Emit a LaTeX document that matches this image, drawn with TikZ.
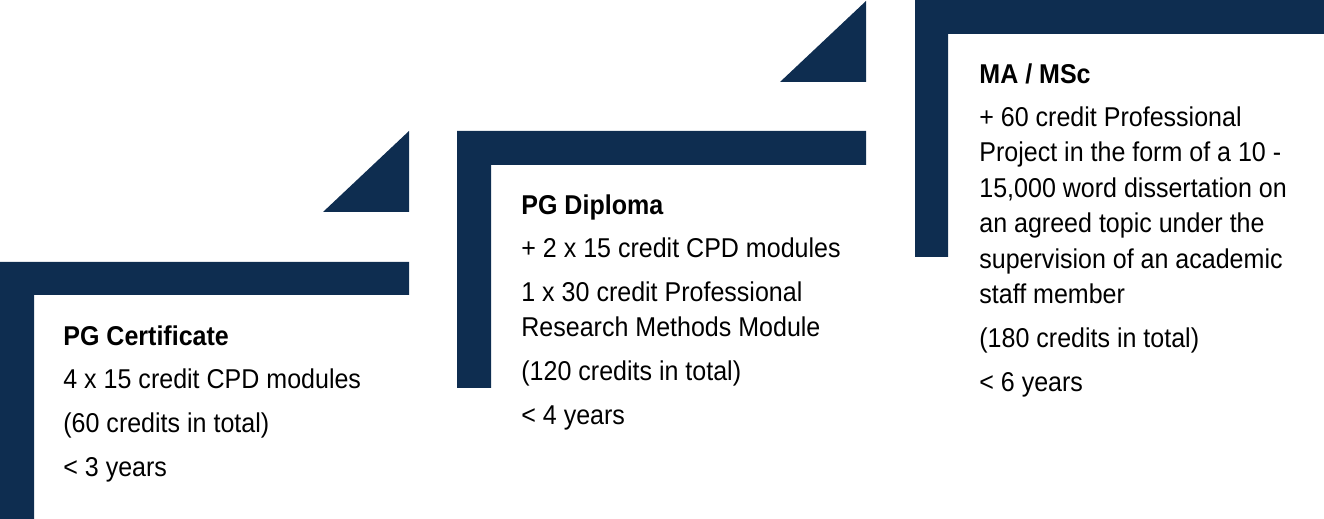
\documentclass[tikz,border=0pt]{standalone}
\usepackage{fontspec}
\setmainfont{Liberation Sans}[FakeStretch=0.92]
\usetikzlibrary{positioning}
\definecolor{navy}{RGB}{14,45,80}
\begin{document}
\begin{tikzpicture}[x=0.5pt,y=0.5pt,
  bar/.style={fill=navy,draw=none},
  step text/.style={inner sep=0pt,anchor=base west,align=left,font=\fontsize{13.6}{17.75}\selectfont,text=black}]
\useasboundingbox (0,0) rectangle (1324,519);
\fill[bar] (0,0) -- (0,257) -- (409,257) -- (409,224) -- (34,224) -- (34,0) -- cycle;
\fill[bar] (323,307) -- (409,307) -- (409,388) -- cycle;
\fill[bar] (457,131) -- (457,388) -- (866,388) -- (866,354) -- (491,354) -- (491,131) -- cycle;
\fill[bar] (780,437) -- (866,437) -- (866,518) -- cycle;
\fill[bar] (915,262) -- (915,519) -- (1324,519) -- (1324,485) -- (948,485) -- (948,262) -- cycle;

\node[step text] (cert) at (63,42) {\textbf{PG Certificate}\\[3.75pt]
4 x 15 credit CPD modules\\[4.25pt]
(60 credits in total)\\[4.25pt]
< 3 years};
\node[step text] (dipl) at (521,94) {\textbf{PG Diploma}\\[3.75pt]
+ 2 x 15 credit CPD modules\\[4.25pt]
1 x 30 credit Professional\\
Research Methods Module\\[4.25pt]
(120 credits in total)\\[4.25pt]
< 4 years};
\node[step text] (mast) at (979,127) {\textbf{MA / MSc}\\[3.75pt]
+ 60 credit Professional\\
Project in the form of a 10 -\\
15,000 word dissertation on\\
an agreed topic under the\\
supervision of an academic\\
staff member\\[4.25pt]
(180 credits in total)\\[4.25pt]
< 6 years};
\end{tikzpicture}
\end{document}
